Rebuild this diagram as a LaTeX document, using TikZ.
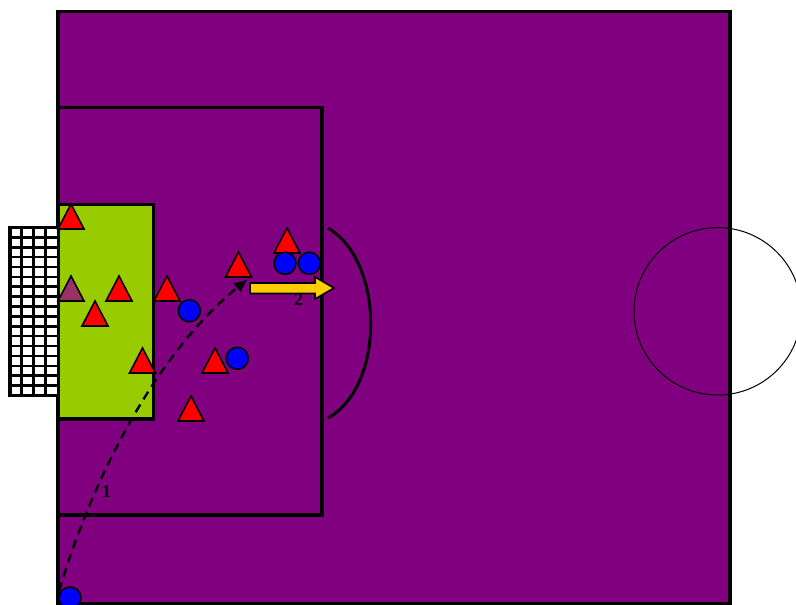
\documentclass[tikz,border=0pt]{standalone}
\usepackage{fontspec}
\setmainfont{Liberation Serif}
\usetikzlibrary{arrows.meta}
\definecolor{pitch}{HTML}{800080}
\definecolor{boxgreen}{HTML}{99CC00}
\definecolor{keepercol}{HTML}{993366}
\definecolor{arrowgold}{HTML}{FFCC00}
\tikzset{
  fieldline/.style={draw=black, line width=3.5pt},
  netline/.style={draw=black, line width=2.6pt},
  pics/player/.style={code={\draw[line width=1.6pt, line join=miter, fill=#1] (-13,0) -- (0,-25) -- (13,0) -- cycle;}},
  ball/.style={circle, draw=black, line width=1.6pt, fill=blue, minimum size=22pt, inner sep=0pt},
  passline/.style={line width=2.4pt, dash pattern=on 9pt off 6pt, -{Latex[length=14pt,width=12pt]}},
  lbl/.style={font=\fontsize{18}{18}\selectfont\bfseries, inner sep=0pt},
}
\begin{document}
\begin{tikzpicture}[x=1pt,y=-1pt]
\clip (0,0) rectangle (796,605);
% pitch
\fill[white] (0,0) rectangle (796,605);
\filldraw[fieldline, fill=pitch] (58,11.5) rectangle (730,603.5);
% penalty box
\draw[fieldline] (58,107.5) -- (322,107.5) -- (322,515) -- (58,515);
% goal area
\filldraw[fieldline, fill=boxgreen] (58,204.5) rectangle (153.5,419);
% goal net
\fill[white] (10,227.5) rectangle (57,395.5);
\foreach \i in {1,2,3} \draw[netline] ({10+\i*11.75},227.5) -- ({10+\i*11.75},395.5);
\foreach \i in {1,...,16} \draw[netline] (10,{227.5+\i*9.88}) -- (57,{227.5+\i*9.88});
\draw[line width=3.5pt] (57,227.5) -- (10,227.5) -- (10,395.5) -- (57,395.5);
% penalty arc
\draw[line width=3pt] (328,228) .. controls (385,262) and (385,386) .. (328,418);
% centre circle
\draw[line width=1pt] (717.7,311.3) circle[radius=83.7];
% attackers / defenders
\pic at (71,229) {player=red};
\pic at (71,301) {player=keepercol};
\pic at (119,301) {player=red};
\pic at (95,326) {player=red};
\pic at (142.5,373) {player=red};
\pic at (167,301) {player=red};
\pic at (238.5,277) {player=red};
\pic at (287,253) {player=red};
\pic at (215,373) {player=red};
\pic at (191,421) {player=red};
% pass
\coordinate (kick) at (59,591);
\coordinate (target) at (248,279);
\draw[passline] (kick) .. controls (95,470) and (160,350) .. (target);
% balls / players
\node[ball] (b1) at (189.3,310.7) {};
\node[ball] (b2) at (237.3,358.3) {};
\node[ball] (b3) at (285,263.3) {};
\node[ball] (b4) at (309.3,263.3) {};
\node[ball] (b5) at (70,598) {};
% run arrow
\filldraw[draw=black, line width=1.6pt, fill=arrowgold, line join=miter]
  (250,283) -- (315,283) -- (315,277) -- (334,288) -- (315,299) -- (315,293.5) -- (250,293.5) -- cycle;
% labels
\node[lbl] (l1) at (106.5,491.5) {1};
\node[lbl] (l2) at (298.5,299.5) {2};
\end{tikzpicture}
\end{document}
